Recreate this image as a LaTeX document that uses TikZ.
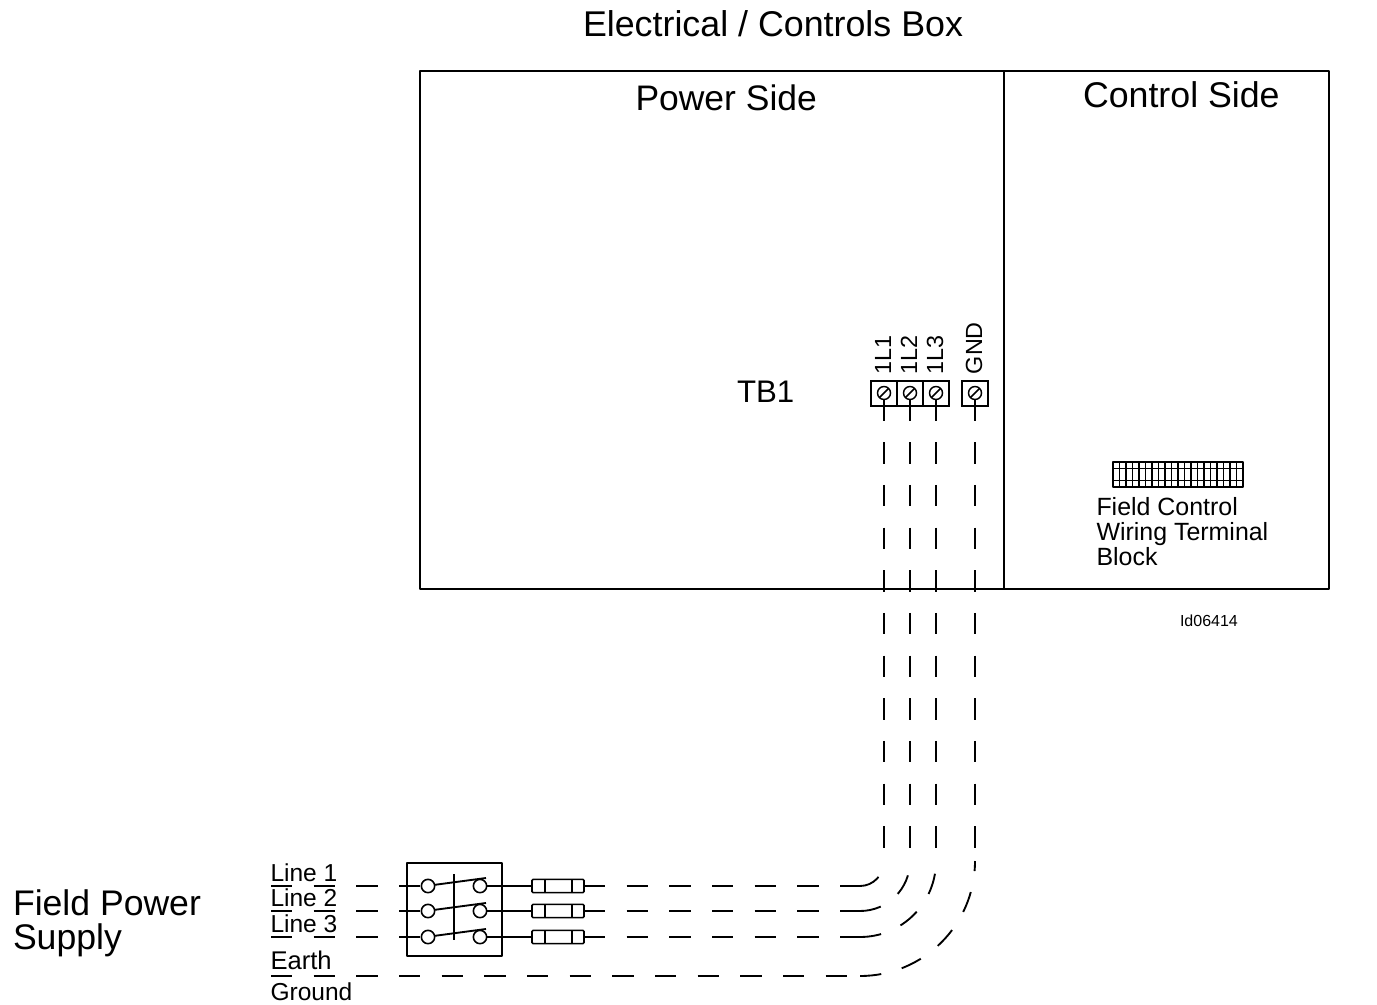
\documentclass[tikz,border=0pt]{standalone}
\usepackage{fontspec}
\setmainfont{Liberation Sans}
\newcommand{\fs}[1]{\fontsize{#1}{#1}\selectfont}
\tikzset{
  wire/.style={line width=1.4pt,black},
  dashwire/.style={wire,dash pattern=on 16pt off 16pt},
  boxline/.style={line width=1.1pt,black,line join=round},
  contact/.style={circle,draw,line width=1.2pt,minimum size=10pt,inner sep=0pt,outer sep=0pt},
  fuse/.style={rectangle,draw,line width=1.2pt,rounded corners=0.8pt,minimum width=39pt,minimum height=10pt,inner sep=0pt,outer sep=0pt},
  termbox/.style={rectangle,draw,line width=1.1pt,minimum width=19.5pt,minimum height=18.75pt,inner sep=0pt,outer sep=0pt},
  screw/.style={circle,draw,line width=1.1pt,minimum size=9.75pt,inner sep=0pt,outer sep=0pt},
  lab/.style={inner sep=0pt,outer sep=0pt,anchor=base west,text=black},
  rlab/.style={inner sep=0pt,outer sep=0pt,anchor=base west,rotate=90,text=black,font=\fs{17.5pt}},
}
\begin{document}
\begin{tikzpicture}[x=0.75pt,y=-0.75pt]
\useasboundingbox (0,0) rectangle (1377,1005);
% main box
\node[rectangle,draw,boxline,minimum width=681.75pt,minimum height=388.5pt,inner sep=0pt,outer sep=0pt,anchor=north west] (mainbox) at (420,71) {};
\coordinate (divtop) at (1004,71);
\coordinate (divbot) at (1004,589);
\draw[boxline] (divtop) -- (divbot);
% titles
\node[lab,font=\fs{26.85pt}] (title) at (583,36.5) {Electrical / Controls Box};
\node[lab,font=\fs{26.6pt}] (power) at (635.5,111) {Power Side};
\node[lab,font=\fs{26.8pt}] (control) at (1083,108) {Control Side};
\node[lab,font=\fs{23.4pt}] (tb) at (737,402.5) {TB1};
\node[lab,font=\fs{26.7pt}] (fp1) at (13,915) {Field Power};
\node[lab,font=\fs{26.7pt}] (fp2) at (13,949) {Supply};
\node[lab,font=\fs{18.7pt}] (fc1) at (1096.5,515.5) {Field Control};
\node[lab,font=\fs{18.7pt}] (fc2) at (1096.5,540.5) {Wiring Terminal};
\node[lab,font=\fs{18.7pt}] (fc3) at (1096.5,565.5) {Block};
\node[lab,font=\fs{12pt}] (ident) at (1180,626) {Id06414};
\node[lab,font=\fs{18.4pt}] (l1) at (270.5,881) {Line 1};
\node[lab,font=\fs{18.4pt}] (l2) at (270.5,906) {Line 2};
\node[lab,font=\fs{18.4pt}] (l3) at (270.5,932) {Line 3};
\node[lab,font=\fs{19.2pt}] (earth) at (270.5,969) {Earth};
\node[lab,font=\fs{18.4pt}] (ground) at (270.5,1000) {Ground};
% rotated terminal labels
\node[rlab] (t1l) at (891,374) {1L1};
\node[rlab] (t2l) at (917,374) {1L2};
\node[rlab] (t3l) at (943,374) {1L3};
\node[rlab] (t4l) at (982,374) {GND};
% terminal block field control
\node[rectangle,draw,boxline,minimum width=97.5pt,minimum height=18.75pt,inner sep=0pt,outer sep=0pt,anchor=north west] (fcb) at (1113,462) {};
\coordinate (fcbL1) at (1113,468.5);
\coordinate (fcbR1) at (1243,468.5);
\coordinate (fcbL2) at (1113,480.5);
\coordinate (fcbR2) at (1243,480.5);
\draw[line width=0.7pt] (fcbL1) -- (fcbR1) (fcbL2) -- (fcbR2);
\foreach \i in {1,...,19}{
  \coordinate (fa\i) at ({1113+\i*6.5},462);
  \coordinate (fb\i) at ({1113+\i*6.5},487);
  \draw[line width=1.4pt] (fa\i) -- (fb\i);
}
% switch enclosure
\node[rectangle,draw,boxline,minimum width=71.25pt,minimum height=69.75pt,inner sep=0pt,outer sep=0pt,anchor=north west] (swbox) at (407,863) {};
\coordinate (bartop) at (454,874);
\coordinate (barbot) at (454,940);
\draw[wire] (bartop) -- (barbot);
% three phases
\foreach \n/\y/\xv in {1/886/884,2/911/910,3/937/936}{
  \coordinate (start\n) at (271,\y);
  \node[contact] (ca\n) at (428,\y) {};
  \node[contact] (cb\n) at (480,\y) {};
  \coordinate (tip\n) at (486,\y-8);
  \node[fuse] (fu\n) at (558,\y) {};
  \coordinate (fi\n) at (545,\y-6.7);
  \coordinate (fj\n) at (545,\y+6.7);
  \coordinate (fk\n) at (572,\y-6.7);
  \coordinate (fl\n) at (572,\y+6.7);
  \draw[line width=1.2pt] (fi\n) -- (fj\n) (fk\n) -- (fl\n);
  \coordinate (bendA\n) at (860,\y);
  \coordinate (bendB\n) at (\xv,861);
  \draw[dashwire] (start\n) -- (ca\n.west);
  \draw[wire] (ca\n.10) -- (tip\n);
  \draw[wire] (cb\n.east) -- (fu\n.west);
  \draw[dashwire] (fu\n.east) -- (bendA\n);
  \draw[dashwire] (bendA\n) to[out=0,in=-90] (bendB\n);
  \node[termbox] (tb\n) at (\xv,393.5) {};
  \node[screw] (sc\n) at (\xv,393) {};
  \draw[line width=1.1pt] (sc\n.225) -- (sc\n.45);
  \draw[dashwire] (sc\n.south) -- (bendB\n);
}
% earth
\coordinate (startE) at (271,976);
\coordinate (bendAE) at (860,976);
\coordinate (bendBE) at (975,861);
\node[termbox] (tbE) at (975,393.5) {};
\node[screw] (scE) at (975,393) {};
\draw[line width=1.1pt] (scE.225) -- (scE.45);
\draw[dashwire] (startE) -- (bendAE);
\draw[dashwire] (bendAE) to[out=0,in=-90] (bendBE);
\draw[dashwire] (scE.south) -- (bendBE);
\end{tikzpicture}
\end{document}
